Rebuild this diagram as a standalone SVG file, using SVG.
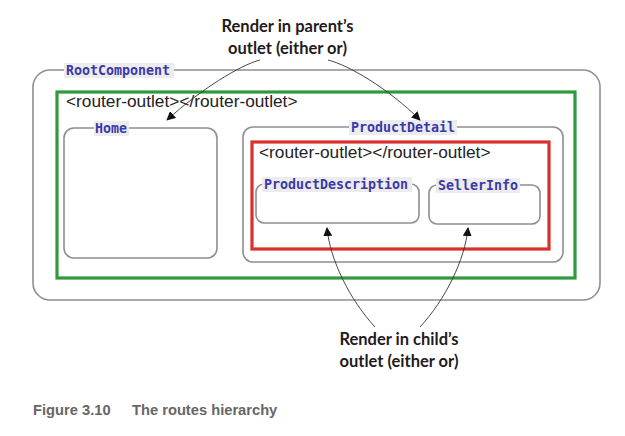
<svg xmlns="http://www.w3.org/2000/svg" width="625" height="436" viewBox="0 0 625 436">
<style>
.box{fill:none;stroke:#8f8f94;stroke-width:1.6}
.green{fill:none;stroke:#2f9a3c;stroke-width:3.2}
.red{fill:none;stroke:#d8302a;stroke-width:3.2}
.lbl{font-family:"DejaVu Sans Mono",monospace;font-weight:bold;font-size:13.3px;fill:#3a3aa8}
.lblbg{fill:#ececec}
.outlet{font-family:"Liberation Sans",Arial,sans-serif;font-size:17.3px;fill:#222}
.note{font-family:Lato,"Open Sans",sans-serif;font-weight:bold;font-size:16.5px;fill:#1f1b1c;text-anchor:middle}
.cap{font-family:"Liberation Sans",Arial,sans-serif;font-weight:bold;font-size:14.7px;fill:#666}
.conn{fill:none;stroke:#333;stroke-width:0.9}
</style>
<defs>
<marker id="ah" viewBox="0 0 10 10" refX="9" refY="5" markerWidth="9" markerHeight="9" markerUnits="userSpaceOnUse" orient="auto">
<path d="M0,0 L10,5 L0,10 z" fill="#111"/>
</marker>
</defs>

<g id="root">
<rect class="box" x="33" y="70" width="567" height="230" rx="17"/>
<rect class="lblbg" x="64" y="63" width="110" height="15"/>
<text class="lbl" x="66" y="75">RootComponent</text>
</g>

<g id="root-outlet">
<rect class="green" x="57" y="92" width="518" height="186"/>
<text class="outlet" x="66" y="107">&lt;router-outlet&gt;&lt;/router-outlet&gt;</text>
</g>

<g id="home">
<rect class="box" x="64" y="128" width="153" height="130" rx="10"/>
<rect class="lblbg" x="94" y="121" width="35" height="15"/>
<text class="lbl" x="95" y="133">Home</text>
</g>

<g id="productdetail">
<rect class="box" x="243" y="127" width="320" height="135" rx="10"/>
<rect class="lblbg" x="349" y="120" width="108" height="15"/>
<text class="lbl" x="351" y="132">ProductDetail</text>
</g>

<g id="child-outlet">
<rect class="red" x="252" y="142" width="297" height="107"/>
<text class="outlet" x="259" y="158">&lt;router-outlet&gt;&lt;/router-outlet&gt;</text>
</g>

<g id="productdescription">
<rect class="box" x="256" y="184" width="163" height="39" rx="8"/>
<rect class="lblbg" x="262" y="177" width="150" height="15"/>
<text class="lbl" x="264" y="189">ProductDescription</text>
</g>

<g id="sellerinfo">
<rect class="box" x="429" y="185" width="111" height="39" rx="8"/>
<rect class="lblbg" x="436" y="178" width="84" height="15"/>
<text class="lbl" x="438" y="190">SellerInfo</text>
</g>

<g id="parent-note">
<text class="note" x="287.5" y="32">Render in parent’s</text>
<text class="note" x="287.5" y="54">outlet (either or)</text>
</g>

<g id="child-note">
<text class="note" x="399" y="345">Render in child’s</text>
<text class="note" x="399" y="367">outlet (either or)</text>
</g>

<g id="connectors">
<path class="conn" d="M260,60 C240,65 200,90 167,120" marker-end="url(#ah)"/>
<path class="conn" d="M328,60 C348,65 388,88 420,120" marker-end="url(#ah)"/>
<path class="conn" d="M375,327 C350,300 330,260 327,228" marker-end="url(#ah)"/>
<path class="conn" d="M420,327 C445,300 465,260 468,228" marker-end="url(#ah)"/>
</g>

<g id="caption">
<text class="cap" x="33" y="415">Figure 3.10</text>
<text class="cap" x="132" y="415">The routes hierarchy</text>
</g>
</svg>
